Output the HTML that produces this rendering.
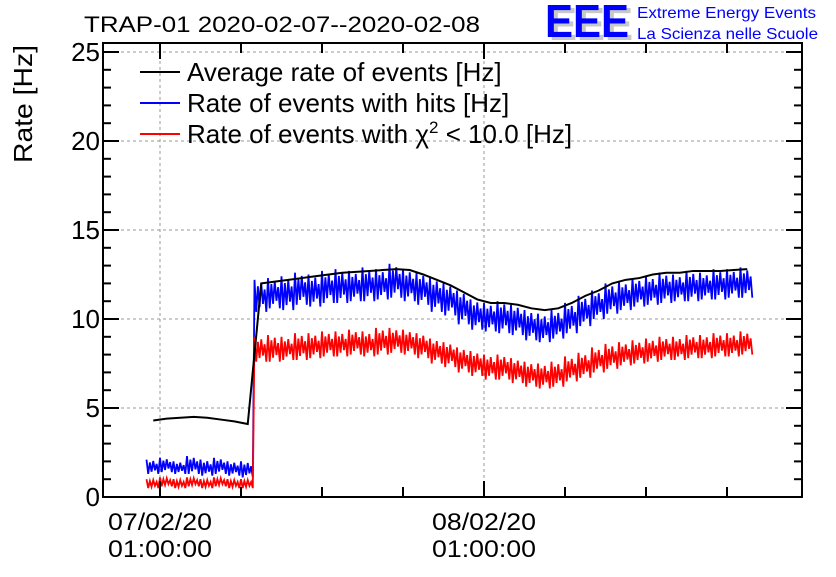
<!DOCTYPE html>
<html><head><meta charset="utf-8"><style>
body{margin:0;background:#fff;width:836px;height:572px;overflow:hidden}
svg text{font-family:"Liberation Sans",sans-serif}
</style></head><body>
<svg id="chart" width="836" height="572" xmlns="http://www.w3.org/2000/svg">
<text x="84" y="32" font-size="22" textLength="396" lengthAdjust="spacingAndGlyphs">TRAP-01 2020-02-07--2020-02-08</text>
<g>
<text x="549" y="40" font-size="46" fill="#c8c8c8" font-weight="bold" textLength="84" lengthAdjust="spacingAndGlyphs">EEE</text>
<text x="545" y="37" font-size="46" fill="#0000ff" font-weight="bold" textLength="84" lengthAdjust="spacingAndGlyphs">EEE</text>
<text x="637" y="18" font-size="16" fill="#0000ff" textLength="179" lengthAdjust="spacingAndGlyphs">Extreme Energy Events</text>
<text x="637" y="39" font-size="16" fill="#0000ff" textLength="181" lengthAdjust="spacingAndGlyphs">La Scienza nelle Scuole</text>
</g>
<text transform="translate(32,163) rotate(-90)" font-size="26" textLength="118" lengthAdjust="spacingAndGlyphs">Rate [Hz]</text>
<g id="grid"></g><g id="series"></g><g id="axes"></g><g id="legend"></g>
</svg>
<script>
const hours=[-1,0,1,2,3,4,5,6,7,8,9,10,11,12,13,14,15,16,17,18,19,20,21,22,23,24,25,26,27,28,29,30,31,32,33,34,35,36,37,38,39,40,41,42,43];
const avgRate=[4.3,4.4,4.45,4.5,4.45,4.35,4.25,4.1,12.0,12.1,12.2,12.3,12.4,12.5,12.6,12.65,12.7,12.75,12.8,12.75,12.5,12.2,11.9,11.5,11.1,10.9,10.9,10.8,10.6,10.5,10.6,10.9,11.3,11.6,12.0,12.2,12.3,12.5,12.6,12.6,12.7,12.7,12.7,12.75,12.8];
const hitsHi=[2.1,2.2,2.0,2.3,2.1,2.2,2.0,2.0,12.2,12.3,12.4,12.6,12.5,12.7,12.8,12.7,12.9,12.8,13.1,12.8,12.6,12.3,12.0,11.6,11.1,10.9,11.0,10.8,10.5,10.3,10.5,10.9,11.3,11.6,12.0,12.1,12.3,12.4,12.6,12.5,12.7,12.6,12.8,12.8,12.9];
const hitsLo=[1.3,1.4,1.3,1.3,1.2,1.3,1.2,1.1,10.4,10.6,10.5,10.8,10.7,10.9,10.9,11.0,11.0,11.1,11.2,11.0,10.8,10.4,10.2,9.7,9.4,9.3,9.2,9.1,8.8,8.7,8.9,9.2,9.6,10.0,10.3,10.5,10.7,10.8,10.9,11.0,11.0,11.1,11.1,11.2,11.2];
const chiHi=[1.0,1.1,1.0,1.1,1.0,1.1,1.0,1.0,9.0,9.1,9.0,9.2,9.2,9.3,9.3,9.4,9.3,9.5,9.5,9.4,9.2,8.9,8.7,8.4,8.2,8.0,8.0,7.8,7.6,7.5,7.6,7.9,8.1,8.4,8.6,8.7,8.8,8.9,9.0,9.0,9.1,9.1,9.2,9.2,9.3];
const chiLo=[0.5,0.6,0.5,0.6,0.5,0.6,0.5,0.5,7.6,7.6,7.7,7.7,7.8,7.9,7.9,8.0,7.9,8.0,8.1,8.0,7.8,7.5,7.3,7.0,6.8,6.6,6.6,6.4,6.2,6.1,6.2,6.5,6.7,7.0,7.2,7.4,7.5,7.6,7.7,7.7,7.8,7.8,7.9,7.9,8.0];
const yTicks=[0,5,10,15,20,25];
const xTickLabels=[["07/02/20","01:00:00",0],["08/02/20","01:00:00",24]];
const L=103,R=802,T=43,B=497;
const X=h=>160+h*13.5, Y=v=>B-v*17.8;
const NS="http://www.w3.org/2000/svg";
function mk(p,tag,at){const e=document.createElementNS(NS,tag);for(const k in at)e.setAttribute(k,at[k]);p.appendChild(e);return e;}
const grid=document.getElementById('grid'),ser=document.getElementById('series'),ax=document.getElementById('axes'),lg=document.getElementById('legend');
yTicks.forEach(v=>{if(v>0){const g=mk(grid,'line',{x1:L,x2:R,y1:Y(v),y2:Y(v),stroke:'#999','stroke-dasharray':'3,3'});

}
const t=mk(ax,'text',{x:L-3,y:Y(v)+9,'font-size':26,'text-anchor':'end'});t.textContent=v;

});
for(let v=0;v<=25;v++){const len=v%5==0?16:8;mk(ax,'line',{x1:L,x2:L+len,y1:Y(v),y2:Y(v),stroke:'#000','stroke-width':2});mk(ax,'line',{x1:R,x2:R-len,y1:Y(v),y2:Y(v),stroke:'#000','stroke-width':2});}
xTickLabels.forEach(d=>{const x=X(d[2]);const g=mk(grid,'line',{x1:x,x2:x,y1:T,y2:B,stroke:'#999','stroke-dasharray':'3,3'});


const t1=mk(ax,'text',{x:x,y:530,'font-size':24,'text-anchor':'middle',textLength:104,lengthAdjust:'spacingAndGlyphs'});t1.textContent=d[0];


const t2=mk(ax,'text',{x:x,y:557,'font-size':24,'text-anchor':'middle',textLength:104,lengthAdjust:'spacingAndGlyphs'});t2.textContent=d[1];

});
for(let h=0;h<=42;h+=6){const len=h%24==0?16:10;const x=X(h);mk(ax,'line',{x1:x,x2:x,y1:B,y2:B-len,stroke:'#000','stroke-width':2});mk(ax,'line',{x1:x,x2:x,y1:T,y2:T+len,stroke:'#000','stroke-width':2});}
const fr=mk(ax,'rect',{x:L,y:T,width:R-L,height:B-T,fill:'none',stroke:'#000','stroke-width':2});


function band(hi,lo,col,name){let pts=[];hours.forEach((h,i)=>{const x0=X(h);const s=[hi[i],lo[i],(hi[i]+lo[i])/2+(hi[i]-lo[i])*0.3,lo[i]+(hi[i]-lo[i])*0.15,hi[i]-(hi[i]-lo[i])*0.1,lo[i]+(hi[i]-lo[i])*0.25,hi[i]-(hi[i]-lo[i])*0.3,lo[i]];
s.forEach((v,k)=>pts.push(x0+k*13.5/8+','+Y(v)));});
const p=mk(ser,'polyline',{points:pts.join(' '),fill:'none',stroke:col,'stroke-width':1.8});

}
band(hitsHi,hitsLo,'#0000ff','hits-rate-line');
band(chiHi,chiLo,'#ff0000','chi2-rate-line');
const ap=mk(ser,'polyline',{points:hours.map((h,i)=>(X(h)+6.75)+','+Y(avgRate[i])).join(' '),fill:'none',stroke:'#000','stroke-width':2});


[['#000','Average rate of events [Hz]'],['#0000ff','Rate of events with hits [Hz]'],['#ff0000','Rate of events with χ<tspan dy="-10" font-size="17">2</tspan><tspan dy="10"> &lt; 10.0 [Hz]</tspan>']].forEach((e,i)=>{const y=72+i*31;
const ln=mk(lg,'line',{x1:140,x2:180,y1:y,y2:y,stroke:e[0],'stroke-width':2});


const t=mk(lg,'text',{x:187,y:y+9,'font-size':26});t.innerHTML=e[1];

});
</script>
</body></html>
